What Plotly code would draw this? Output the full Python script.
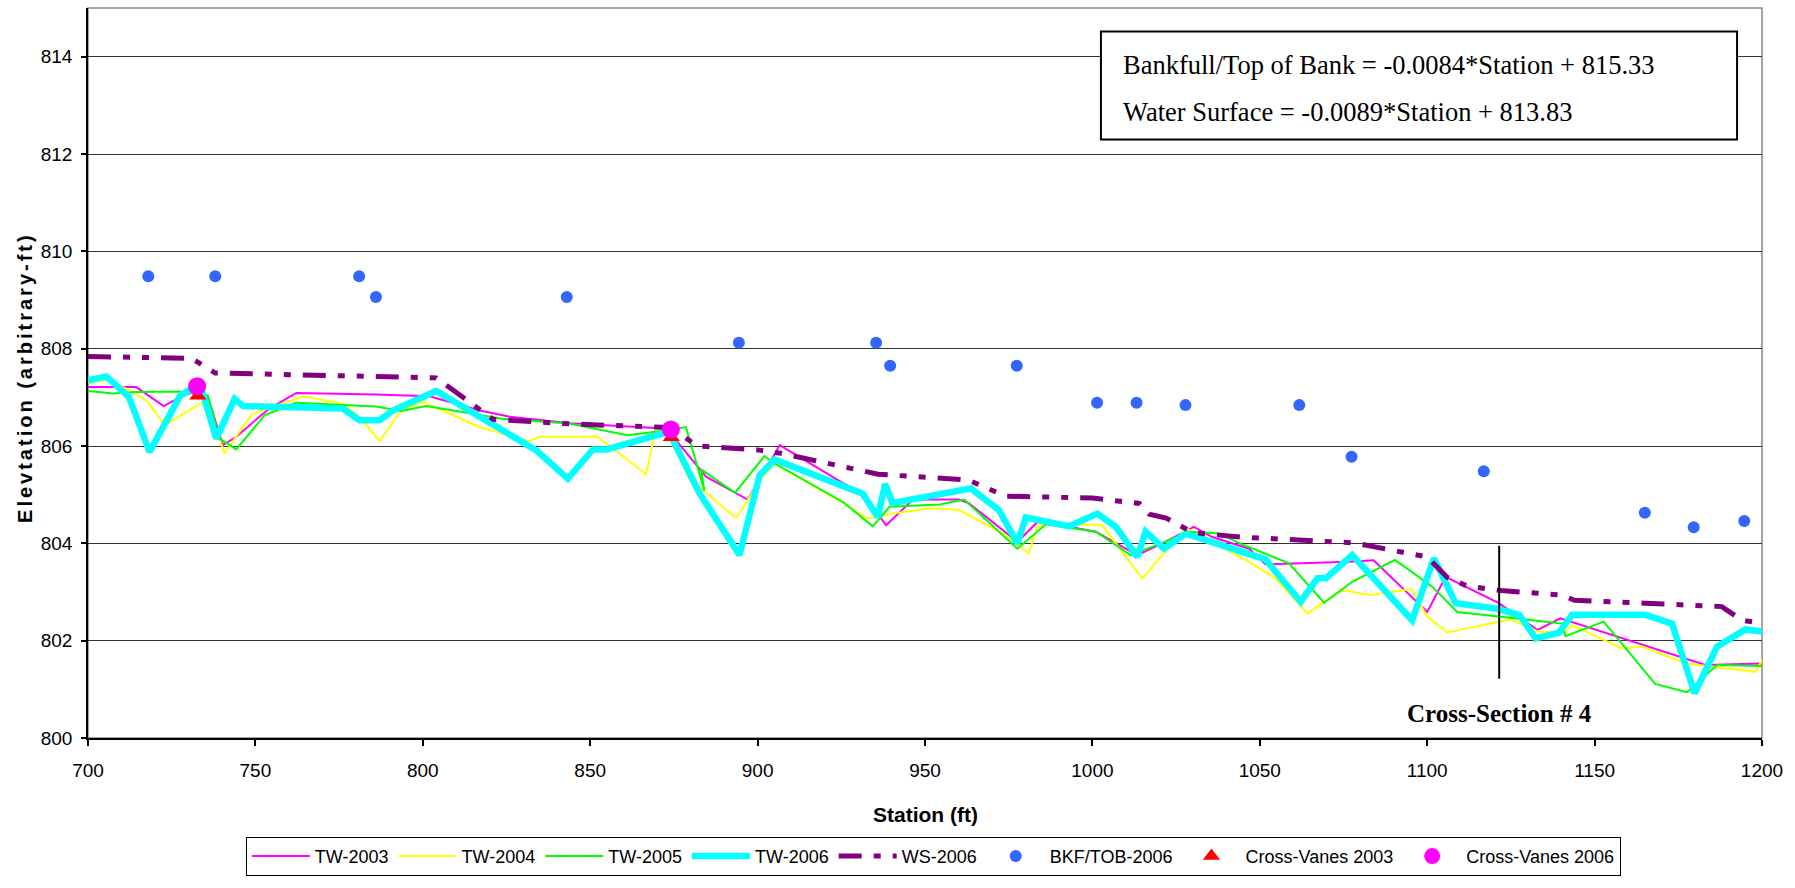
import plotly.graph_objects as go

# ---------------- data ----------------
tw2003_x = [700, 714.4, 722.6, 727.4, 731.3, 735.8, 740.3, 744.3, 751.2, 754.2, 762.2, 786, 802, 817, 826, 844, 872,
            875.6, 884.6, 897, 900.6, 906.6, 925, 931.4, 938.4, 946.4, 960.2, 963.2, 977.6, 983.6, 993, 1001, 1013.4,
            1020.9, 1030.3, 1035.8, 1046.8, 1051.7, 1076.6, 1084, 1100, 1105.5, 1121.4, 1133, 1139.8, 1157.2, 1183.1, 1201]
tw2003_y = [807.21, 807.21, 806.82, 807.0, 807.11, 807.01, 806.02, 806.19, 806.6, 806.77, 807.09, 807.06, 807.02, 806.73,
            806.6, 806.47, 806.36, 806.12, 805.37, 804.9, 805.3, 806.02, 805.26, 805.02, 804.37, 804.9, 804.9, 804.82,
            804.03, 804.44, 804.34, 804.24, 803.76, 804.0, 804.34, 804.13, 803.89, 803.57, 803.62, 803.65, 802.59,
            803.31, 802.77, 802.22, 802.46, 802.08, 801.5, 801.53]

tw2004_x = [700, 705.5, 712.4, 717.9, 722.9, 729.4, 735.3, 740.8, 749, 764.2, 776.1, 781.1, 787.1, 793.1, 800, 816.8,
            831.8, 834.8, 852.2, 866.7, 869.7, 872.6, 879.6, 893.6, 901.5, 905.1, 925, 932.8, 939.4, 951.3, 960, 974.1,
            981, 983.6, 993, 1002.9, 1014.9, 1027.9, 1046.8, 1054.7, 1064.2, 1074.6, 1083, 1095.3, 1100, 1106, 1124.9,
            1133.3, 1141.3, 1143.3, 1158.2, 1164.2, 1177.2, 1198.1, 1200.6]
tw2004_y = [807.3, 807.35, 807.15, 806.91, 806.43, 806.69, 806.94, 805.85, 806.66, 807.02, 806.87, 806.6, 806.1, 806.7,
            806.91, 806.39, 806.1, 806.19, 806.19, 805.42, 806.39, 806.32, 805.33, 804.52, 805.37, 805.64, 804.85, 804.51,
            804.6, 804.72, 804.69, 804.17, 803.79, 804.37, 804.39, 804.37, 803.28, 804.31, 803.62, 803.28, 802.56,
            803.04, 802.94, 803.06, 802.49, 802.17, 802.44, 802.18, 802.18, 802.32, 801.84, 801.88, 801.53, 801.36, 801.67]

tw2005_x = [700, 707.5, 714.4, 727.4, 735.8, 739.3, 744.3, 752.7, 762.2, 786, 793.6, 801, 823.8, 843.7, 861.1, 872.6,
            878.6, 884.1, 883.1, 893.3, 902, 905.1, 925.5, 934.4, 939.4, 954.3, 961.7, 977.6, 986.1, 1001, 1011.4,
            1020.9, 1028.9, 1037.9, 1044, 1058.7, 1069.2, 1077.6, 1090.4, 1101.5, 1109, 1126.4, 1140.3, 1141.3, 1152.7,
            1168.1, 1177.6, 1186.6, 1201]
tw2005_y = [807.13, 807.08, 807.11, 807.12, 807.04, 806.15, 805.93, 806.63, 806.89, 806.81, 806.72, 806.82, 806.56,
            806.46, 806.22, 806.32, 806.39, 805.08, 805.52, 805.04, 805.79, 805.64, 804.85, 804.35, 804.75, 804.8, 804.9,
            803.89, 804.39, 804.24, 803.76, 804.01, 804.24, 804.2, 804.0, 803.59, 802.78, 803.21, 803.66, 803.11, 802.59,
            802.46, 802.35, 802.09, 802.39, 801.11, 800.94, 801.5, 801.48]

tw2006_x = [700, 705.5, 712.2, 718.4, 727.4, 730.8, 734.3, 738.3, 743.8, 746.3, 776.1, 781.1, 787.1, 791.1, 804, 833.9,
            843.3, 850.8, 854.8, 873.5, 882.7, 894.6, 900.6, 905.1, 931.4, 935.9, 938.1, 940.3, 963.7, 972.1, 977.6,
            980.1, 993, 1001.5, 1007, 1013.4, 1015.9, 1021.4, 1027.9, 1046.8, 1051.7, 1062.2, 1067.2, 1069.7, 1077.6,
            1095.5, 1102, 1108.5, 1112.5, 1120.5, 1127.5, 1132.4, 1139.3, 1143.3, 1165.2, 1173.1, 1179.9, 1186.6,
            1195.1, 1201]
tw2006_y = [807.35, 807.43, 807.01, 805.88, 807.02, 807.18, 807.08, 806.15, 806.97, 806.82, 806.77, 806.53, 806.53,
            806.73, 807.13, 805.91, 805.33, 805.93, 805.93, 806.29, 805.02, 803.76, 805.4, 805.72, 805.02, 804.54, 805.22,
            804.83, 805.13, 804.68, 804.0, 804.53, 804.35, 804.61, 804.34, 803.72, 804.24, 803.89, 804.2, 803.76, 803.67,
            802.8, 803.28, 803.28, 803.76, 802.42, 803.69, 802.77, 802.73, 802.66, 802.53, 802.05, 802.16, 802.53,
            802.53, 802.35, 800.92, 801.88, 802.23, 802.18]

ws2006_x = [700, 731, 738, 778, 782, 804, 821, 845, 874, 882, 900, 907, 936, 963, 974, 1000, 1014, 1017, 1022, 1030,
            1044, 1060, 1078, 1100, 1106, 1112, 1122, 1140, 1144, 1165, 1188, 1194, 1201]
ws2006_y = [807.84, 807.8, 807.5, 807.45, 807.42, 807.4, 806.55, 806.45, 806.38, 806.0, 805.92, 805.85, 805.42, 805.3,
            804.97, 804.93, 804.82, 804.6, 804.52, 804.22, 804.13, 804.08, 804.01, 803.72, 803.3, 803.12, 803.03,
            802.94, 802.83, 802.77, 802.7, 802.42, 802.35]

bkf_x = [718, 738, 781, 786, 843, 894.4, 935.4, 939.6, 977.4, 1001.4, 1013.2, 1027.8, 1061.8, 1077.4, 1116.9,
         1165, 1179.6, 1194.7]
bkf_y = [809.49, 809.49, 809.49, 809.06, 809.06, 808.12, 808.12, 807.65, 807.65, 806.89, 806.89, 806.84, 806.84,
         805.78, 805.48, 804.63, 804.33, 804.46]

cv2003_x = [732.8, 874.2]
cv2003_y = [807.03, 806.18]
cv2006_x = [732.6, 874.1]
cv2006_y = [807.23, 806.34]

xsec_station = 1121.5
xsec_top = 803.95
xsec_bottom = 801.22

x_ticks = [700, 750, 800, 850, 900, 950, 1000, 1050, 1100, 1150, 1200]
y_ticks = [800, 802, 804, 806, 808, 810, 812, 814]

eq_lines = ["Bankfull/Top of Bank = -0.0084*Station + 815.33",
            "Water Surface = -0.0089*Station + 813.83"]

# ---------------- figure ----------------
NARROW = "Liberation Sans Narrow, Arial Narrow, Liberation Sans, Arial, sans-serif"
SANS = "Liberation Sans, Arial, sans-serif"
SERIF = "Liberation Serif, Times New Roman, serif"

fig = go.Figure()
fig.add_trace(go.Scatter(x=tw2003_x, y=tw2003_y, mode="lines", name="TW-2003",
                         line=dict(color="#FF00FF", width=2)))
fig.add_trace(go.Scatter(x=tw2004_x, y=tw2004_y, mode="lines", name="TW-2004",
                         line=dict(color="#FFFF00", width=2)))
fig.add_trace(go.Scatter(x=tw2005_x, y=tw2005_y, mode="lines", name="TW-2005",
                         line=dict(color="#00FF00", width=2)))
fig.add_trace(go.Scatter(x=tw2006_x, y=tw2006_y, mode="lines", name="TW-2006",
                         line=dict(color="#00FFFF", width=6.5)))
fig.add_trace(go.Scatter(x=ws2006_x, y=ws2006_y, mode="lines", name="WS-2006",
                         line=dict(color="#800080", width=5, dash="23px,12px,7px,12px,7px,12px")))
fig.add_trace(go.Scatter(x=bkf_x, y=bkf_y, mode="markers", name="BKF/TOB-2006",
                         marker=dict(color="#3366FF", size=12, symbol="circle")))
fig.add_trace(go.Scatter(x=cv2003_x, y=cv2003_y, mode="markers", name="Cross-Vanes 2003",
                         marker=dict(color="#FF0000", size=15, symbol="triangle-up")))
fig.add_trace(go.Scatter(x=cv2006_x, y=cv2006_y, mode="markers", name="Cross-Vanes 2006",
                         marker=dict(color="#FF00FF", size=18, symbol="circle")))

fig.update_layout(
    width=1795, height=888,
    margin=dict(l=88, r=33, t=8, b=150),
    paper_bgcolor="white", plot_bgcolor="white",
    font=dict(family=NARROW, size=18, color="black"),
    showlegend=True,
    legend=dict(orientation="h", x=0.505, xanchor="center", y=-0.1355, yanchor="top",
                bordercolor="black", borderwidth=1, bgcolor="white",
                font=dict(family=NARROW, size=18, color="black"),
                itemwidth=58, traceorder="normal"),
    xaxis=dict(range=[700, 1200], tickvals=x_ticks, ticktext=[str(v) for v in x_ticks],
               ticks="outside", ticklen=6, tickwidth=1.5, tickcolor="black",
               showline=True, linecolor="black", linewidth=1.5, showgrid=False, zeroline=False,
               tickfont=dict(family=NARROW, size=19, color="black"), ticklabelstandoff=8),
    yaxis=dict(range=[800, 815], tickvals=y_ticks, ticktext=[str(v) for v in y_ticks],
               ticks="outside", ticklen=5, tickwidth=1.5, tickcolor="black",
               showline=True, linecolor="black", linewidth=1.5, showgrid=True,
               gridcolor="#333333", gridwidth=1, zeroline=False,
               tickfont=dict(family=NARROW, size=19, color="black"), ticklabelstandoff=5),
)

# plot area border (top / right in gray)
fig.add_shape(type="rect", xref="paper", yref="paper", x0=0, x1=1, y0=0, y1=1,
              line=dict(color="#888888", width=1.5), layer="below")

# cross-section marker line
fig.add_shape(type="line", xref="x", yref="y", x0=xsec_station, x1=xsec_station,
              y0=xsec_bottom, y1=xsec_top, line=dict(color="black", width=2))
fig.add_annotation(x=xsec_station, y=800.51, xref="x", yref="y", text="<b>Cross-Section # 4</b>",
                   showarrow=False, font=dict(family=SERIF, size=25, color="black"),
                   xanchor="center", yanchor="middle")

# equation box
fig.add_shape(type="rect", xref="paper", yref="paper", x0=0.6051, x1=0.9851, y0=0.820, y1=0.9678,
              line=dict(color="black", width=2), fillcolor="white", layer="above")
fig.add_annotation(x=0.6171, y=0.9213, xref="paper", yref="paper", text=eq_lines[0], showarrow=False,
                   xanchor="left", yanchor="middle", font=dict(family=SERIF, size=26.5, color="black"))
fig.add_annotation(x=0.6171, y=0.857, xref="paper", yref="paper", text=eq_lines[1], showarrow=False,
                   xanchor="left", yanchor="middle", font=dict(family=SERIF, size=26.5, color="black"))

# axis titles
fig.add_annotation(x=0.5, y=-0.1054, xref="paper", yref="paper", text="<b>Station (ft)</b>",
                   showarrow=False, xanchor="center", yanchor="middle",
                   font=dict(family=NARROW, size=21, color="black"))
fig.add_annotation(x=-0.0373, y=0.494, xref="paper", yref="paper",
                   text='<span style="letter-spacing:3px"><b>Elevtation (arbitrary-ft)</b></span>',
                   showarrow=False, textangle=-90, xanchor="center", yanchor="middle",
                   font=dict(family=SANS, size=20, color="black"))

fig.write_html("out.html", config={"displayModeBar": False},
               post_script="document.body.style.margin='0';")
